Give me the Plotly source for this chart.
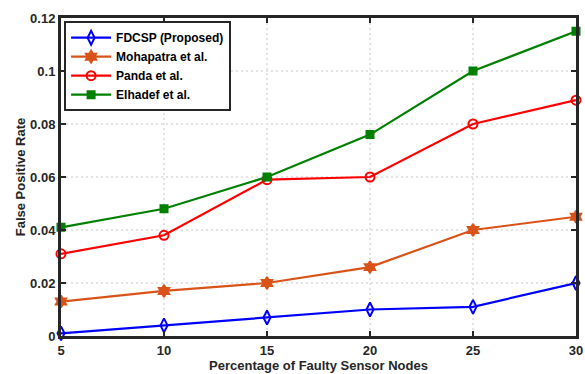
import plotly.graph_objects as go

x_vals = [5, 10, 15, 20, 25, 30]
fdcsp = [0.001, 0.004, 0.007, 0.010, 0.011, 0.020]
mohapatra = [0.013, 0.017, 0.020, 0.026, 0.040, 0.045]
panda = [0.031, 0.038, 0.059, 0.060, 0.080, 0.089]
elhadef = [0.041, 0.048, 0.060, 0.076, 0.100, 0.115]

names = ["FDCSP (Proposed)", "Mohapatra et al.", "Panda et al.", "Elhadef et al."]
series = [fdcsp, mohapatra, panda, elhadef]
colors = ["#0000FF", "#D95319", "#FF0000", "#008000"]
symbols = ["diamond-tall-open", "hexagram", "circle-open", "square"]
sizes = [10, 9, 9, 7]

fig = go.Figure()
for n, s, c, m, sz in zip(names, series, colors, symbols, sizes):
    fig.add_trace(go.Scatter(
        x=x_vals, y=s, name=n, mode="lines+markers",
        line=dict(color=c, width=2.2),
        marker=dict(symbol=m, size=sz, color=c, line=dict(color=c, width=2)),
        cliponaxis=False,
    ))

fnt = "Liberation Sans, Arial"
fig.update_layout(
    width=585, height=374,
    margin=dict(l=61, r=2, t=18, b=37),
    paper_bgcolor="white", plot_bgcolor="white",
    font=dict(family=fnt, color="#262626"),
    showlegend=True,
    legend=dict(
        x=0.006, y=0.99, xanchor="left", yanchor="top",
        bordercolor="#262626", borderwidth=2, bgcolor="white",
        font=dict(family=fnt, size=12, color="#000000", weight="bold"),
        tracegroupgap=0, itemwidth=40,
    ),
    xaxis=dict(
        range=[5, 30], tickvals=x_vals, ticktext=[str(v) for v in x_vals],
        showline=True, linecolor="#262626", linewidth=3, mirror="ticks",
        ticks="inside", ticklen=5, tickwidth=2, tickcolor="#262626",
        showgrid=True, gridcolor="#E3E3E3", gridwidth=2, griddash="2px,3px",
        zeroline=False, ticklabeloverflow="allow",
        tickfont=dict(family=fnt, size=13, color="#262626", weight="bold"),
        title=dict(text="Percentage of Faulty Sensor Nodes", standoff=5,
                   font=dict(family=fnt, size=13, color="#262626", weight="bold")),
    ),
    yaxis=dict(
        range=[0, 0.12], tickvals=[0, 0.02, 0.04, 0.06, 0.08, 0.1, 0.12],
        ticktext=["0", "0.02", "0.04", "0.06", "0.08", "0.1", "0.12"],
        showline=True, linecolor="#262626", linewidth=3, mirror="ticks",
        ticks="inside", ticklen=5, tickwidth=2, tickcolor="#262626",
        showgrid=True, gridcolor="#E3E3E3", gridwidth=2, griddash="2px,3px",
        zeroline=False,
        tickfont=dict(family=fnt, size=13, color="#262626", weight="bold"),
        title=dict(text="False Positive Rate", standoff=2,
                   font=dict(family=fnt, size=13, color="#262626", weight="bold")),
    ),
)

fig.write_html("out.html")
